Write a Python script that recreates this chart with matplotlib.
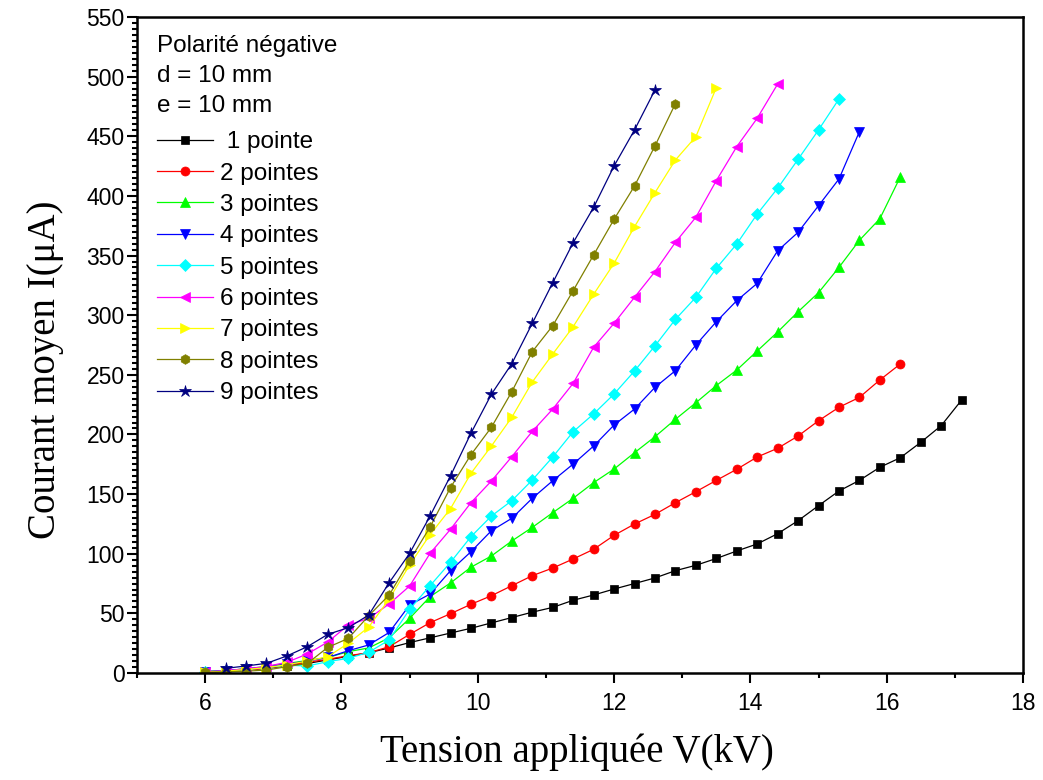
import numpy as np
import matplotlib
matplotlib.use("Agg")
import matplotlib.pyplot as plt
from matplotlib.ticker import MultipleLocator

# voltage grid (kV), step 0.3 kV from 6.0
v_all = [6.0 + 0.3 * i for i in range(38)]

# mean current (uA) for each number of points
i_1 = [0.5, 1.5, 2.5, 4, 6, 8, 11, 14, 17, 21, 25.5, 29.5, 33.5, 37.5, 42, 46.5, 51, 55, 61,
       65.4, 70.4, 75, 79.7, 85.8, 90.3, 96, 102.3, 108.2, 116.8, 127.7, 140.3, 152.6, 161.5,
       172.5, 180.5, 193.4, 207.4, 228.9]
i_2 = [0.5, 1.5, 2.5, 4, 6.5, 9, 11.5, 14.5, 17, 22, 32.4, 42.2, 49.7, 57.6, 64.8, 73.2, 81.6,
       88, 95.6, 103.7, 115.4, 124.9, 133, 142.8, 152, 161.5, 170.8, 181.1, 188.4, 198.7, 211.5,
       222.8, 231.1, 245.7, 259.1]
i_3 = [1.5, 2, 3.5, 5.5, 8, 10.5, 13, 17.9, 21, 29.5, 45.8, 64, 75.5, 88.7, 98.1, 110.7, 122.1,
       134.4, 146.5, 159.6, 171, 184.7, 198.1, 212.7, 226.6, 241, 254, 270, 285.9, 302.9, 318.9,
       340.1, 362.8, 380.9, 416]
i_4 = [1, 2, 3.5, 5, 7.5, 10, 13, 18.7, 23.5, 34, 57, 66.2, 85.8, 101.7, 119.3, 129.7, 146.5,
       161.2, 175.2, 190.3, 207.9, 221.3, 239.5, 253.5, 275, 294.5, 312.2, 326.7, 354, 369.5,
       391.8, 414.2, 453.9]
i_5 = [1, 1.5, 3, 4.5, 6.5, 5.9, 9.5, 12.3, 17.4, 27.7, 53.4, 73.2, 92.8, 114.3, 131.6, 144.5,
       161.8, 181.1, 202.3, 217.2, 233.9, 253.2, 274.3, 296.5, 315, 339.3, 359.7, 384.8, 406.4,
       430.7, 455.3, 481.3]
i_6 = [1, 2, 3.5, 5.5, 9, 16, 26, 40.2, 45.8, 57.9, 72.9, 100.3, 120.5, 142.8, 161, 181.4, 202.6,
       221.3, 242.9, 273.1, 293.2, 315, 336.5, 361.1, 382.1, 412.8, 441.3, 465.1, 493.8]
i_7 = [0.5, 1.5, 3, 4.5, 7, 10, 13.7, 24.9, 38.5, 62, 90.6, 116, 137.8, 167.4, 190.3, 214.4, 244,
       267.4, 290.4, 317.5, 343.5, 374.2, 402.7, 430.1, 449.7, 490.7]
i_8 = [0.5, 1, 1.5, 2.5, 5.3, 8.1, 21.5, 29, 48, 65.4, 94.2, 122.4, 155.5, 183, 206, 235.9, 269.4,
       291.2, 320.6, 350.5, 380.4, 408.3, 441.9, 477.4]
# 9 points starts at 6.3 kV
i_9 = [3.9, 5.9, 8.1, 14.3, 22.1, 32.4, 38, 48.6, 75.7, 100.3, 131.6, 165.3, 201, 233.7, 259.4,
       293.2, 327.2, 360.8, 390.4, 425.1, 455.3, 488.8]

labels = [" 1 pointe", "2 pointes", "3 pointes", "4 pointes", "5 pointes", "6 pointes",
          "7 pointes", "8 pointes", "9 pointes"]
colors = ["#000000", "#FF0000", "#00FF00", "#0000FF", "#00FFFF", "#FF00FF", "#FFFF00",
          "#808000", "#000080"]
markers = ["s", "o", "^", "v", "D", "<", ">", "h", "*"]
msizes = [5.5, 6.5, 7, 7, 6, 7, 7, 7, 9]

series = [(v_all[:len(i_1)], i_1), (v_all[:len(i_2)], i_2), (v_all[:len(i_3)], i_3),
          (v_all[:len(i_4)], i_4), (v_all[:len(i_5)], i_5), (v_all[:len(i_6)], i_6),
          (v_all[:len(i_7)], i_7), (v_all[:len(i_8)], i_8), (v_all[1:1 + len(i_9)], i_9)]

fig = plt.figure(figsize=(10.43, 7.8), dpi=100)
ax = fig.add_axes([137 / 1043, 1 - 673 / 780, 886 / 1043, 656 / 780])

for (x, y), lab, c, m, ms in zip(series, labels, colors, markers, msizes):
    ax.plot(x, y, color=c, marker=m, markersize=ms, linewidth=0.9, label=lab,
            markeredgecolor=c, markeredgewidth=0.5)

ax.set_xlim(5, 18)
ax.set_ylim(0, 550)
ax.xaxis.set_major_locator(MultipleLocator(2))
ax.xaxis.set_minor_locator(MultipleLocator(1))
ax.yaxis.set_major_locator(MultipleLocator(50))
ax.yaxis.set_minor_locator(MultipleLocator(5))
ax.tick_params(which="major", direction="out", length=7, width=1.5, labelsize=16.5)
ax.tick_params(which="minor", direction="out", length=3.5, width=1.5)
ax.tick_params(axis="x", which="major", pad=7)
ax.tick_params(axis="y", which="major", pad=2)
for lbl in ax.get_xticklabels() + ax.get_yticklabels():
    lbl.set_fontfamily("Liberation Sans")
for s in ax.spines.values():
    s.set_linewidth(1.8)

ax.set_xlabel("Tension appliquée V(kV)", fontsize=28, family="Liberation Serif")
ax.set_ylabel("Courant moyen I(μA)", fontsize=28, family="Liberation Serif")
ax.xaxis.set_label_coords(0.497, -0.092)
ax.yaxis.set_label_coords(-0.082, 0.462)

ax.text(0.0226, 0.972, "Polarité négative\nd = 10 mm\ne = 10 mm", transform=ax.transAxes,
        ha="left", va="top", fontsize=17.5, family="Liberation Sans", linespacing=1.47)
ax.legend(loc="upper left", bbox_to_anchor=(0.0226, 0.826), frameon=False,
          prop={"family": "Liberation Sans", "size": 17.5}, handlelength=2.3,
          handletextpad=0.3, labelspacing=0.385, borderaxespad=0, borderpad=0)

fig.savefig("out.png", dpi=100)
